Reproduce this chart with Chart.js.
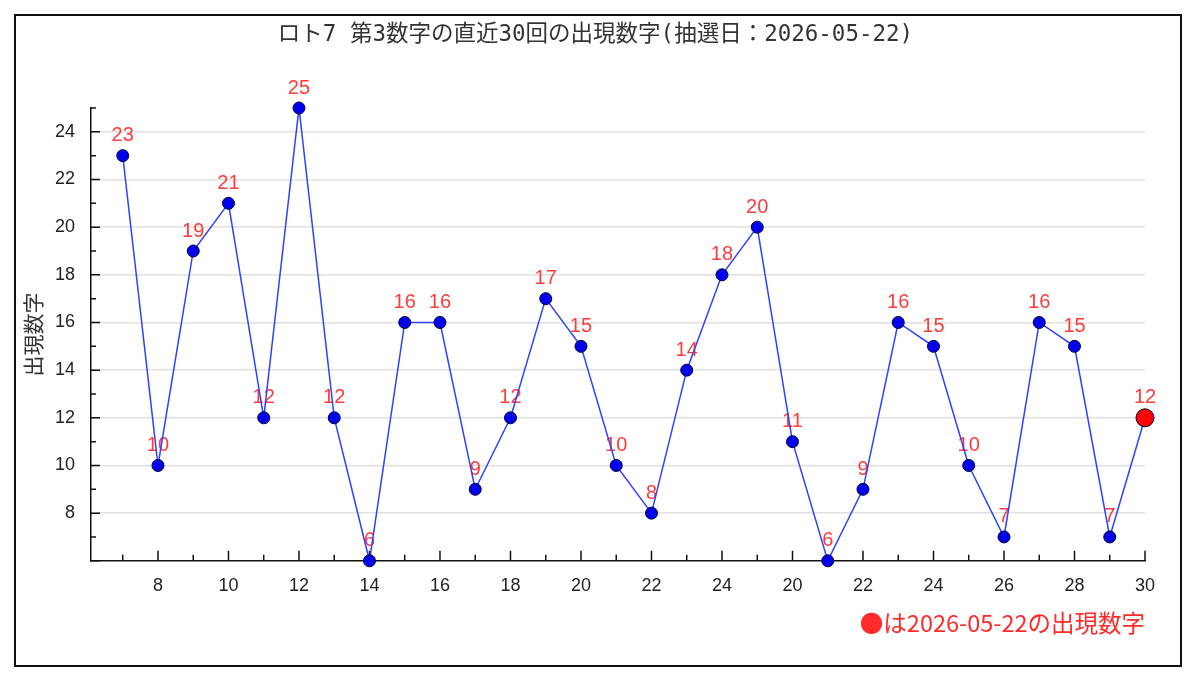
<!DOCTYPE html>
<html>
<head>
<meta charset="utf-8">
<script src="https://cdn.jsdelivr.net/npm/chart.js@4.4.1/dist/chart.umd.min.js"></script>
<style>
  html, body { margin: 0; padding: 0; background: #fff; }
  #wrap { position: absolute; left: 0; top: 0; width: 1200px; height: 695px; }
  #frame { position: absolute; left: 14px; top: 14px; width: 1164px; height: 649px; border: 2px solid #111; pointer-events: none; }
</style>
</head>
<body>
<div id="wrap"><canvas id="numberChart"></canvas></div>
<div id="frame"></div>
<script>
// 直近30回の第3数字
const values = [23, 10, 19, 21, 12, 25, 12, 6, 16, 16, 9, 12, 17, 15, 10, 8, 14, 18, 20, 11, 6, 9, 16, 15, 10, 7, 16, 15, 7, 12];
const xTickLabels = ['', '8', '', '10', '', '12', '', '14', '', '16', '', '18', '', '20', '', '22', '', '24', '', '20', '', '22', '', '24', '', '26', '', '28', '', '30'];
const yTickLabels = [8, 10, 12, 14, 16, 18, 20, 22, 24];
const yMin = 6;
const yMax = 25;
const titleText = 'ロト7 第3数字の直近30回の出現数字(抽選日：2026-05-22)';
const noteText = '●は2026-05-22の出現数字';
const yTitle = '出現数字';

const lastIndex = values.length - 1;

// 内向きの目盛り
const innerTicks = {
    id: 'innerTicks',
    beforeDatasetsDraw(chart) {
        const { ctx, scales: { x, y } } = chart;
        ctx.save();
        ctx.strokeStyle = '#111';
        ctx.lineWidth = 1.5;
        ctx.beginPath();
        for (let i = 1; i <= values.length; i++) {
            const px = x.getPixelForValue(i);
            const len = xTickLabels[i - 1] ? 10 : 6;
            ctx.moveTo(px, x.top);
            ctx.lineTo(px, x.top - len);
        }
        for (let v = yMin; v <= yMax; v++) {
            const py = y.getPixelForValue(v);
            const len = v % 2 === 0 ? 9 : 5;
            ctx.moveTo(y.right, py);
            ctx.lineTo(y.right + len, py);
        }
        ctx.stroke();
        ctx.restore();
    }
};

// 点の上の数字
const pointLabels = {
    id: 'pointLabels',
    beforeDatasetsDraw(chart) {
        const { ctx } = chart;
        const meta = chart.getDatasetMeta(0);
        ctx.save();
        ctx.font = '20px "Liberation Sans", Arial, sans-serif';
        ctx.fillStyle = '#ff3b3b';
        ctx.textAlign = 'center';
        ctx.textBaseline = 'middle';
        meta.data.forEach((pt, i) => {
            ctx.fillText(String(values[i]), pt.x, pt.y - 20);
        });
        ctx.restore();
    }
};

const ctx = document.getElementById('numberChart').getContext('2d');
new Chart(ctx, {
    type: 'line',
    data: {
        datasets: [{
            data: values.map((v, i) => ({ x: i + 1, y: v })),
            borderColor: '#3040ff',
            borderWidth: 1.5,
            tension: 0,
            clip: false,
            pointBackgroundColor: values.map((v, i) => i === lastIndex ? '#ff0000' : '#0000ee'),
            pointBorderColor: '#000033',
            pointBorderWidth: 1,
            pointRadius: values.map((v, i) => i === lastIndex ? 9 : 6),
            pointHoverRadius: values.map((v, i) => i === lastIndex ? 9 : 6)
        }]
    },
    options: {
        responsive: true,
        maintainAspectRatio: false,
        animation: false,
        layout: {
            padding: { left: 46, right: 55, top: 0, bottom: 49 }
        },
        plugins: {
            legend: { display: false },
            tooltip: { enabled: false },
            title: {
                display: true,
                text: titleText,
                color: '#333',
                font: { family: '"DejaVu Sans Mono", "Noto Sans CJK JP"', size: 22.5, weight: 'normal' },
                padding: { top: 21.5, bottom: 59.5 }
            },
            subtitle: {
                display: true,
                position: 'bottom',
                align: 'end',
                text: noteText,
                color: '#ff2a2a',
                font: { family: '"Noto Sans CJK JP"', size: 23.5, weight: 'normal' },
                padding: { top: 8, bottom: 9 }
            }
        },
        scales: {
            x: {
                type: 'linear',
                min: 0.1,
                max: values.length,
                afterBuildTicks: axis => {
                    axis.ticks = xTickLabels.map((t, i) => ({ value: i + 1 }));
                },
                afterFit: axis => { axis.height = 40; },
                grid: { display: false, drawTicks: false },
                border: { display: true, color: '#111', width: 1.5 },
                ticks: {
                    autoSkip: false,
                    maxRotation: 0,
                    padding: 14,
                    color: '#222',
                    font: { family: '"Liberation Sans", Arial, sans-serif', size: 18 },
                    callback: (value) => xTickLabels[value - 1] || ''
                }
            },
            y: {
                min: yMin,
                max: yMax,
                afterFit: axis => { axis.width = 45; },
                grid: {
                    drawTicks: false,
                    lineWidth: 1.5,
                    color: c => yTickLabels.includes(c.tick.value) ? '#e0e0e0' : 'rgba(0,0,0,0)'
                },
                border: { display: true, color: '#111', width: 1.5 },
                ticks: {
                    stepSize: 1,
                    autoSkip: false,
                    padding: 16,
                    color: '#222',
                    font: { family: '"Liberation Sans", Arial, sans-serif', size: 18 },
                    callback: value => yTickLabels.includes(value) ? String(value) : ''
                },
                title: {
                    display: true,
                    text: yTitle,
                    color: '#333',
                    font: { family: '"Noto Sans CJK JP"', size: 21, weight: 'normal' },
                    padding: { top: -25.6, bottom: 0 }
                }
            }
        }
    },
    plugins: [innerTicks, pointLabels]
});
</script>
</body>
</html>
